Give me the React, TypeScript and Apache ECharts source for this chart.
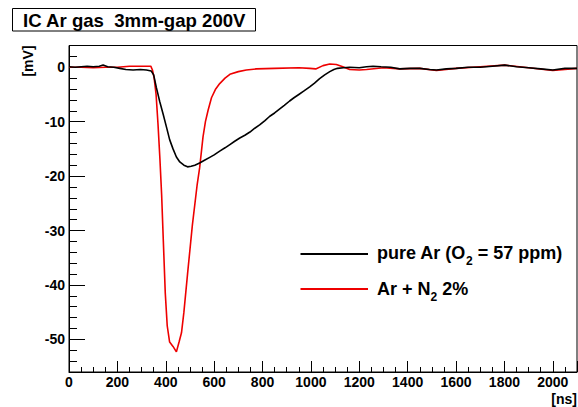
import React, { useEffect, useRef } from 'react';
import * as echarts from 'echarts';

// pure Ar (O2 = 57 ppm) — black trace
const timeNsPureAr = [0, 25, 50, 75, 100, 125, 141, 160, 185, 210, 235, 265, 295, 320, 340, 350, 361, 375, 389, 403, 416, 430, 444, 458, 475, 490, 505, 520, 540, 560, 580, 600, 623, 645, 665, 685, 706, 727, 748, 768, 788, 810, 830, 850, 870, 890, 912, 930, 950, 970, 995, 1015, 1036, 1057, 1078, 1095, 1110, 1134, 1160, 1200, 1230, 1257, 1290, 1330, 1367, 1410, 1450, 1490, 1519, 1560, 1600, 1650, 1700, 1750, 1801, 1850, 1900, 1950, 2000, 2050, 2100];
const mVPureAr = [0.1, 0.0, 0.1, 0.2, 0.1, 0.2, 0.4, 0.1, 0.0, -0.2, -0.4, -0.5, -0.4, -0.5, -0.7, -1.4, -3.7, -6.3, -8.6, -11.0, -13.3, -15.0, -16.5, -17.4, -18.0, -18.3, -18.2, -18.0, -17.6, -17.1, -16.6, -16.1, -15.4, -14.8, -14.2, -13.6, -13.0, -12.5, -11.9, -11.2, -10.6, -9.8, -9.0, -8.4, -7.7, -7.0, -6.2, -5.6, -5.0, -4.4, -3.6, -2.9, -2.1, -1.4, -0.8, -0.4, -0.2, -0.1, 0.0, -0.1, 0.1, 0.2, 0.1, 0.0, -0.3, -0.2, -0.2, -0.4, -0.5, -0.3, -0.2, 0.0, 0.0, 0.2, 0.4, 0.1, -0.1, -0.3, -0.5, -0.2, -0.2];

// Ar + N2 2% — red trace
const timeNsArN2 = [0, 50, 100, 150, 200, 250, 300, 338, 345, 352, 360, 368, 376, 383, 390, 398, 406, 416, 430, 444, 455, 465, 475, 490, 510, 530, 540, 554, 564, 575, 589, 605, 623, 645, 665, 700, 733, 775, 850, 950, 995, 1020, 1050, 1078, 1105, 1132, 1160, 1200, 1230, 1300, 1367, 1450, 1519, 1600, 1700, 1801, 1900, 2000, 2100];
const mVArN2 = [0.0, 0.0, -0.1, 0.0, 0.0, 0.2, 0.2, 0.2, -0.5, -2.0, -5.0, -10.5, -17.0, -23.5, -32.0, -41.5, -47.5, -50.5, -51.3, -52.3, -50.5, -48.8, -45.0, -38.0, -29.0, -21.5, -18.5, -12.8, -10.0, -7.9, -5.6, -4.1, -3.0, -2.0, -1.3, -0.8, -0.5, -0.3, -0.2, -0.1, -0.2, -0.3, 0.3, 0.6, 0.5, 0.1, -0.4, -0.5, -0.4, -0.1, -0.3, -0.2, -0.6, -0.2, 0.1, 0.4, -0.1, -0.6, -0.2];

const xMajorTicks = [0, 200, 400, 600, 800, 1000, 1200, 1400, 1600, 1800, 2000];
const yMajorTicks = [0, -10, -20, -30, -40, -50];

const titleText = 'IC Ar gas  3mm-gap 200V';
const legendPureAr = ['pure Ar (O', '2', ' = 57 ppm)'];
const legendArN2 = ['Ar + N', '2', ' 2%'];

const FONT = '"Liberation Sans", Arial, Helvetica, sans-serif';
const RED = '#ee0000';

function measure(text: string, size: number): number {
  const c = document.createElement('canvas').getContext('2d');
  if (!c) return text.length * size * 0.55;
  c.font = `bold ${size}px ${FONT}`;
  return c.measureText(text).width;
}

export default function App() {
  const ref = useRef<HTMLDivElement>(null);
  useEffect(() => {
    if (!ref.current) return;
    const chart = echarts.init(ref.current, null, { renderer: 'svg' });

    const legSize = 18;
    const subSize = 12;
    const legX = 377;
    const legendTexts = (parts: string[], y: number) => {
      const w0 = measure(parts[0], legSize);
      const w1 = measure(parts[1], subSize);
      const base = { fontFamily: FONT, fontWeight: 'bold', fill: '#000' };
      return [
        { type: 'text', x: legX, y, style: { ...base, text: parts[0], fontSize: legSize, verticalAlign: 'middle' } },
        { type: 'text', x: legX + w0, y: y + 8, style: { ...base, text: parts[1], fontSize: subSize, verticalAlign: 'middle' } },
        { type: 'text', x: legX + w0 + w1, y, style: { ...base, text: parts[2], fontSize: legSize, verticalAlign: 'middle' } },
      ];
    };

    const tickLabel = { color: '#000', fontWeight: 'bold', fontSize: 14, fontFamily: FONT, formatter: (v: number) => String(v) };

    chart.setOption({
      animation: false,
      backgroundColor: '#fff',
      grid: { left: 69, right: 1, top: 45.5, bottom: 35, show: true, borderColor: '#000', borderWidth: 1, backgroundColor: 'transparent' },
      xAxis: [
        {
          type: 'value', min: 0, max: 2100, interval: 200, position: 'bottom',
          axisLine: { show: true, onZero: false, lineStyle: { color: '#000', width: 1 } },
          axisTick: { show: true, inside: true, length: 11, lineStyle: { color: '#000' } },
          minorTick: { show: true, splitNumber: 4, length: 5, lineStyle: { color: '#000' } },
          axisLabel: { ...tickLabel, customValues: xMajorTicks, margin: 3 },
          splitLine: { show: false },
          minorSplitLine: { show: false },
        },
      ],
      yAxis: [
        {
          type: 'value', min: -56, max: 4, position: 'left',
          axisLine: { show: true, onZero: false, lineStyle: { color: '#000', width: 1 } },
          axisTick: { show: true, inside: true, length: 16, customValues: yMajorTicks, lineStyle: { color: '#000' } },
          axisLabel: { ...tickLabel, customValues: yMajorTicks, margin: 4 },
          splitLine: { show: false },
        },
        {
          type: 'value', min: -56, max: 4, interval: 2, position: 'left',
          axisLine: { show: false, onZero: false },
          axisTick: { show: true, inside: true, length: 8, lineStyle: { color: '#000' } },
          axisLabel: { show: false },
          splitLine: { show: false },
        },
      ],
      series: [
        {
          type: 'line', name: 'Ar + N2 2%', xAxisIndex: 0, yAxisIndex: 0,
          data: timeNsArN2.map((t, i) => [t, mVArN2[i]]),
          showSymbol: false, lineStyle: { color: RED, width: 1.6 }, itemStyle: { color: RED },
        },
        {
          type: 'line', name: 'pure Ar (O2 = 57 ppm)', xAxisIndex: 0, yAxisIndex: 0,
          data: timeNsPureAr.map((t, i) => [t, mVPureAr[i]]),
          showSymbol: false, lineStyle: { color: '#000', width: 1.6 }, itemStyle: { color: '#000' },
        },
      ],
      graphic: [
        { type: 'rect', shape: { x: 12.5, y: 8.5, width: 243, height: 22.5 }, style: { fill: '#fff', stroke: '#000', lineWidth: 1 } },
        { type: 'text', x: 23, y: 20, style: { text: titleText, fontFamily: FONT, fontWeight: 'bold', fontSize: 18.6, fill: '#000', verticalAlign: 'middle' } },
        { type: 'text', x: 28, y: 61, rotation: Math.PI / 2, style: { text: '[mV]', fontFamily: FONT, fontWeight: 'bold', fontSize: 14, fill: '#000', align: 'center', verticalAlign: 'middle' } },
        { type: 'text', x: 577, y: 399, style: { text: '[ns]', fontFamily: FONT, fontWeight: 'bold', fontSize: 14, fill: '#000', align: 'right', verticalAlign: 'middle' } },
        { type: 'line', shape: { x1: 300.5, y1: 254, x2: 368, y2: 254 }, style: { stroke: '#000', lineWidth: 2 } },
        { type: 'line', shape: { x1: 300.5, y1: 289, x2: 368, y2: 289 }, style: { stroke: RED, lineWidth: 2 } },
        ...legendTexts(legendPureAr, 253),
        ...legendTexts(legendArN2, 289),
      ],
    });
    return () => chart.dispose();
  }, []);
  return <div ref={ref} style={{ position: 'absolute', left: 0, top: 0, width: 578, height: 407 }} />;
}
